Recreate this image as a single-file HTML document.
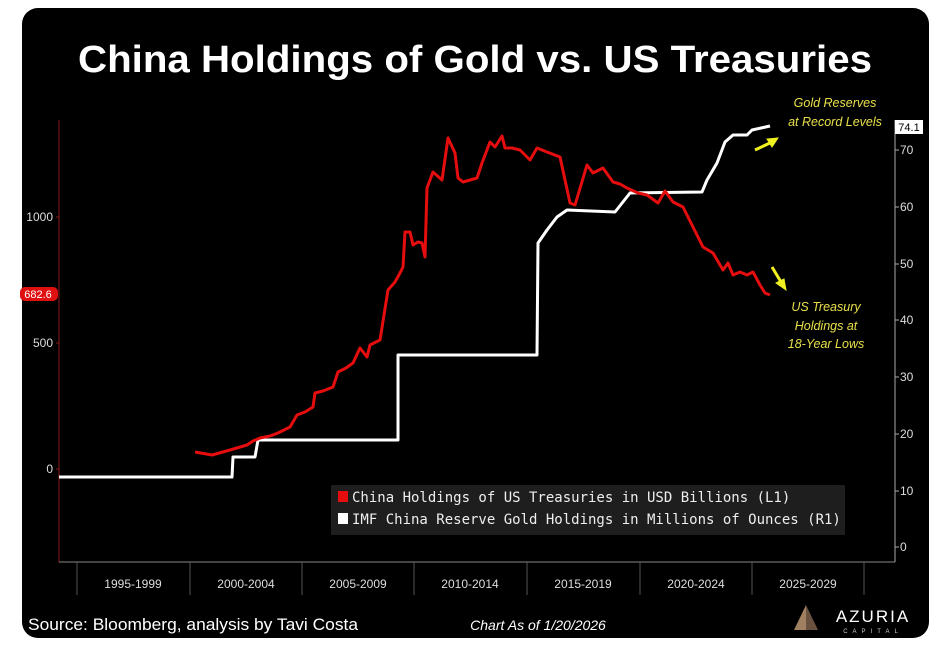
<!DOCTYPE html>
<html><head><meta charset="utf-8"><style>
html,body{margin:0;padding:0;background:#fff;}
svg{display:block;}
</style></head><body>
<svg width="940" height="653" viewBox="0 0 940 653" xmlns="http://www.w3.org/2000/svg" font-family="Liberation Sans, sans-serif">
<rect x="22" y="8" width="907" height="630" rx="16" fill="#000"/>
<text x="475" y="72" text-anchor="middle" fill="#fff" font-size="38" font-weight="bold" textLength="794" lengthAdjust="spacingAndGlyphs">China Holdings of Gold vs. US Treasuries</text>
<!-- axes -->
<line x1="59" y1="120" x2="59" y2="562" stroke="#8a1a1a" stroke-width="1"/>
<line x1="59" y1="562" x2="895" y2="562" stroke="#888" stroke-width="1"/>
<line x1="895" y1="120" x2="895" y2="562" stroke="#aaa" stroke-width="1"/>
<g stroke="#8a1a1a"><line x1="56" y1="217" x2="59" y2="217"/><line x1="56" y1="343" x2="59" y2="343"/><line x1="56" y1="469" x2="59" y2="469"/></g>
<g fill="#ddd" font-size="12" text-anchor="end"><text x="53" y="221">1000</text><text x="53" y="347">500</text><text x="53" y="473">0</text></g>
<rect x="20" y="287" width="38" height="14" rx="5" fill="#e01010"/>
<text x="38" y="298" fill="#fff" font-size="11" text-anchor="middle">682.6</text>
<g stroke="#aaa"><line x1="895" y1="547" x2="899" y2="547"/><line x1="895" y1="491" x2="899" y2="491"/><line x1="895" y1="434" x2="899" y2="434"/><line x1="895" y1="377" x2="899" y2="377"/><line x1="895" y1="320" x2="899" y2="320"/><line x1="895" y1="264" x2="899" y2="264"/><line x1="895" y1="207" x2="899" y2="207"/><line x1="895" y1="150" x2="899" y2="150"/></g>
<g fill="#ddd" font-size="12"><text x="900" y="551">0</text><text x="900" y="495">10</text><text x="900" y="438">20</text><text x="900" y="381">30</text><text x="900" y="324">40</text><text x="900" y="268">50</text><text x="900" y="211">60</text><text x="900" y="154">70</text></g>
<rect x="895" y="120" width="28" height="14" fill="#fff"/>
<text x="909" y="131" font-size="11" text-anchor="middle" fill="#000">74.1</text>
<!-- x period ticks -->
<g stroke="#555"><line x1="77" y1="562" x2="77" y2="595"/><line x1="190" y1="562" x2="190" y2="595"/><line x1="302" y1="562" x2="302" y2="595"/><line x1="414" y1="562" x2="414" y2="595"/><line x1="527" y1="562" x2="527" y2="595"/><line x1="640" y1="562" x2="640" y2="595"/><line x1="752" y1="562" x2="752" y2="595"/><line x1="864" y1="562" x2="864" y2="595"/></g>
<g fill="#ddd" font-size="12" text-anchor="middle"><text x="133" y="588">1995-1999</text><text x="246" y="588">2000-2004</text><text x="358" y="588">2005-2009</text><text x="470" y="588">2010-2014</text><text x="583" y="588">2015-2019</text><text x="696" y="588">2020-2024</text><text x="808" y="588">2025-2029</text></g>
<!-- gold line -->
<polyline fill="none" stroke="#fff" stroke-width="3" stroke-linejoin="round" points="59,477 232,477 233,457 255,457 258,440 398,440 398,355 537,355 538,243 547,230 557,217 567,210 615,212 630,193 702,192 707,180 717,163 725,142 733,135 747,135 752,130 770,126"/>
<!-- red line -->
<polyline fill="none" stroke="#e50d0d" stroke-width="3" stroke-linejoin="round" points="195,452 212,455 230,450 247,445 253,441 260,438 270,436 278,433 290,427 297,415 305,412 313,407 315,393 323,391 333,387 338,372 346,368 353,363 360,348 367,357 370,345 380,340 388,290 395,282 400,273 403,267 405,232 410,232 413,245 418,242 422,243 425,257 427,188 433,172 442,180 448,138 455,153 458,178 463,182 470,180 477,178 482,163 490,142 495,147 502,136 505,148 512,148 520,150 530,160 537,148 547,152 560,157 570,203 575,205 587,165 593,173 603,168 613,182 620,184 627,188 638,193 647,195 658,203 665,191 673,202 683,207 693,227 703,247 713,253 723,270 728,263 733,275 740,272 747,275 753,272 760,285 765,293 770,295"/>
<!-- annotations -->
<g fill="#e8e04a" font-size="12.5" font-style="italic" text-anchor="middle"><text x="835" y="107">Gold Reserves</text><text x="835" y="126">at Record Levels</text><text x="826" y="311">US Treasury</text><text x="826" y="330">Holdings at</text><text x="826" y="348">18-Year Lows</text></g>
<g stroke="#f0f020" stroke-width="3" fill="#f0f020"><line x1="755" y1="150" x2="772" y2="142"/><polygon points="778,138 767,139 772,147" stroke-width="1"/><line x1="772" y1="267" x2="781" y2="282"/><polygon points="786,290 776,283 784,279" stroke-width="1"/></g>
<!-- legend -->
<rect x="331" y="485" width="514" height="50" fill="#1e1e1e"/>
<rect x="338" y="491" width="10" height="11" fill="#e50d0d"/>
<rect x="338" y="513" width="10" height="11" fill="#fff"/>
<g fill="#eee" font-size="14" font-family="DejaVu Sans Mono, Liberation Mono, monospace"><text x="352" y="502">China Holdings of US Treasuries in USD Billions (L1)</text><text x="352" y="524">IMF China Reserve Gold Holdings in Millions of Ounces (R1)</text></g>
<!-- footer -->
<text x="28" y="630" fill="#fff" font-size="17" textLength="330" lengthAdjust="spacingAndGlyphs">Source: Bloomberg, analysis by Tavi Costa</text>
<text x="538" y="630" fill="#fff" font-size="14" font-style="italic" text-anchor="middle">Chart As of 1/20/2026</text>
<polygon points="806,630 794,630 806,605" fill="#a08060"/>
<polygon points="806,630 818,630 806,605" fill="#6a5240"/>
<text x="873" y="622" fill="#fff" font-size="17" text-anchor="middle" letter-spacing="2">AZURIA</text>
<text x="873" y="633" fill="#ccc" font-size="6" text-anchor="middle" letter-spacing="5">CAPITAL</text>
</svg>
</body></html>
